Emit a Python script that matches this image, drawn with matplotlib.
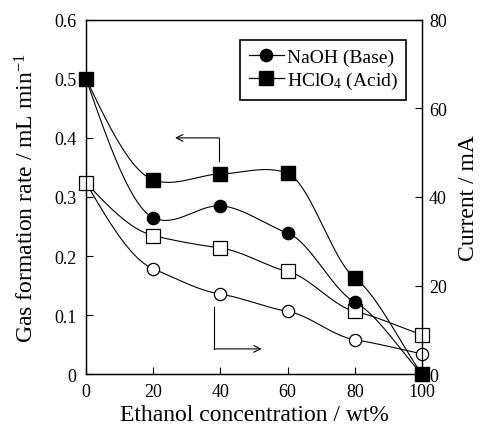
import numpy as np
import matplotlib
matplotlib.use("Agg")
import matplotlib.pyplot as plt
from matplotlib.lines import Line2D

plt.rcParams['font.family'] = ['Liberation Serif', 'DejaVu Serif']
plt.rcParams['mathtext.fontset'] = 'custom'
plt.rcParams['mathtext.rm'] = 'Liberation Serif'
plt.rcParams['mathtext.it'] = 'Liberation Serif:italic'

# data
ethanol = [0, 20, 40, 60, 80, 100]
gas_naoh = [0.5, 0.265, 0.285, 0.239, 0.122, 0.0]
gas_hclo4 = [0.5, 0.329, 0.339, 0.340, 0.163, 0.0]
cur_naoh = [43.2, 23.8, 18.1, 14.2, 7.8, 4.6]
cur_hclo4 = [43.2, 31.3, 28.5, 23.2, 14.2, 8.9]
x_ticks = [0, 20, 40, 60, 80, 100]
left_ticks = [0, 0.1, 0.2, 0.3, 0.4, 0.5, 0.6]
left_labels = ['0', '0.1', '0.2', '0.3', '0.4', '0.5', '0.6']
right_ticks = [0, 20, 40, 60, 80]


def smooth(x, y, n=60, tension=0.5):
    """Cardinal-spline curve drawn through the data points."""
    x = np.asarray(x, float)
    y = np.asarray(y, float)
    m = np.empty_like(y)
    m[1:-1] = tension * (y[2:] - y[:-2]) / (x[2:] - x[:-2])
    c0 = (y[1] - y[0]) / (x[1] - x[0])
    m[0] = (3 * c0 - m[1]) / 2
    m[-1] = (y[-1] - y[-2]) / (x[-1] - x[-2])
    xs, ys = [], []
    for i in range(len(x) - 1):
        h = x[i + 1] - x[i]
        t = np.linspace(0, 1, n, endpoint=False)
        h00 = 2 * t**3 - 3 * t**2 + 1
        h10 = t**3 - 2 * t**2 + t
        h01 = -2 * t**3 + 3 * t**2
        h11 = t**3 - t**2
        xs.append(x[i] + t * h)
        ys.append(h00 * y[i] + h10 * h * m[i] + h01 * y[i + 1] + h11 * h * m[i + 1])
    xs.append([x[-1]])
    ys.append([y[-1]])
    return np.concatenate(xs), np.concatenate(ys)


fig = plt.figure(figsize=(4.8, 4.27), dpi=100)
ax = fig.add_axes([86 / 480, 1 - 375.3 / 427, 336 / 480, 354.6 / 427])
ax2 = ax.twinx()

lw = 0.8
ms_sq = 9.5
ms_ci = 8.8

# right axis (open markers)
for yv, mk, ms in [(cur_naoh, 'o', ms_ci), (cur_hclo4, 's', ms_sq)]:
    sx, sy = smooth(ethanol, yv)
    ax2.plot(sx, sy, color='black', lw=lw, zorder=2)
    ax2.plot(ethanol, yv, ls='none', marker=mk, ms=ms, mfc='white', mec='black',
             mew=0.9, clip_on=False, zorder=3)

# left axis (filled markers)
ax.set_zorder(ax2.get_zorder() + 1)
ax.patch.set_visible(False)
for yv, mk, ms in [(gas_naoh, 'o', ms_ci), (gas_hclo4, 's', ms_sq)]:
    sx, sy = smooth(ethanol, yv)
    ax.plot(sx, sy, color='black', lw=lw, zorder=2)
    ax.plot(ethanol, yv, ls='none', marker=mk, ms=ms, mfc='black', mec='black',
            clip_on=False, zorder=3)

ax.set_xlim(0, 100)
ax.set_ylim(0, 0.6)
ax2.set_ylim(0, 80)
ax.set_xticks(x_ticks)
ax.set_xticklabels([str(v) for v in x_ticks])
ax.set_yticks(left_ticks)
ax.set_yticklabels(left_labels)
ax2.set_yticks(right_ticks)
ax2.set_yticklabels([str(v) for v in right_ticks])

for a in (ax, ax2):
    a.tick_params(direction='in', length=5, width=0.8, labelsize=13)
    for s in a.spines.values():
        s.set_linewidth(0.9)
ax.tick_params(axis='x', pad=6)
ax.tick_params(axis='y', pad=7)
ax2.tick_params(axis='y', pad=5)
ax.tick_params(top=False, right=False)
ax2.tick_params(left=False)

ax.set_xlabel('Ethanol concentration / wt%', fontsize=17, labelpad=3)
ax.set_ylabel('Gas formation rate / mL min$^{-1}$', fontsize=17, labelpad=11)
ax2.set_ylabel('Current / mA', fontsize=17, labelpad=8)

# arrows
ax.annotate('', xy=(26.5, 0.4), xytext=(39.6, 0.4),
            arrowprops=dict(arrowstyle='->', color='black', lw=0.8,
                            shrinkA=0, shrinkB=0, mutation_scale=12))
ax.plot([39.6, 39.6], [0.4, 0.361], color='black', lw=0.8)
ax.plot([38.1, 38.1], [0.114, 0.043], color='black', lw=0.8)
ax.annotate('', xy=(52.3, 0.043), xytext=(38.1, 0.043),
            arrowprops=dict(arrowstyle='->', color='black', lw=0.8,
                            shrinkA=0, shrinkB=0, mutation_scale=12))

handles = [Line2D([], [], color='black', lw=0.9, marker='o', ms=ms_ci),
           Line2D([], [], color='black', lw=0.9, marker='s', ms=ms_sq)]
leg = ax.legend(handles, ['NaOH (Base)', 'HClO$_4$ (Acid)'], loc='upper left',
                bbox_to_anchor=(0.458, 0.943), borderaxespad=0, fontsize=14,
                frameon=True, fancybox=False, edgecolor='black', framealpha=1,
                handlelength=1.8, handletextpad=0.15, borderpad=0.45,
                labelspacing=0.2)
leg.get_frame().set_linewidth(1.2)

fig.savefig('out.png', dpi=100)
